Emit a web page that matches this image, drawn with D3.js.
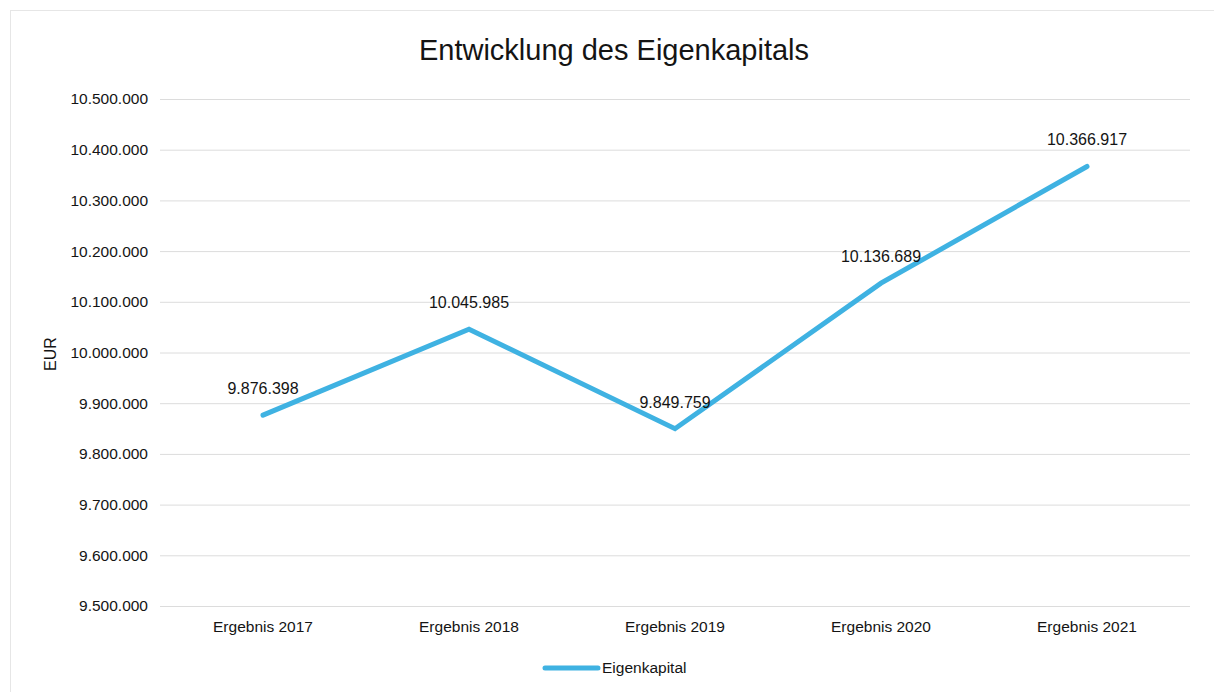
<!DOCTYPE html>
<html>
<head>
<meta charset="utf-8">
<script src="https://cdn.jsdelivr.net/npm/d3@7"></script>
<style>
  body { margin: 0; background: #fff; }
  svg { font-family: "Liberation Sans", Arial, sans-serif; }
</style>
</head>
<body>
<svg id="grafico" width="1214" height="692"></svg>
<script>
let kategorien = ['Ergebnis 2017', 'Ergebnis 2018', 'Ergebnis 2019', 'Ergebnis 2020', 'Ergebnis 2021'];
let eigenkapital = [9876398, 10045985, 9849759, 10136689, 10366917];
let yTicks = [9500000, 9600000, 9700000, 9800000, 9900000, 10000000, 10100000, 10200000, 10300000, 10400000, 10500000];

let svg = d3.select('#grafico');
let farbe = '#3FB2E2';
let schrift = '#141414';

// deutsches Zahlenformat mit Punkt als Tausendertrennzeichen
let fmt = d3.formatLocale({decimal: ',', thousands: '.', grouping: [3], currency: ['', ' €']}).format(',d');

// leichter Rahmen
svg.append('rect')
    .attr('x', 10.5).attr('y', 10.5)
    .attr('width', 1220).attr('height', 700)
    .attr('fill', 'none')
    .attr('stroke', '#e6e6e6');

let links = 160, rechts = 1190, oben = 99, unten = 606;

let fnx = d3.scaleBand()
    .domain(kategorien)
    .range([links, rechts]);

let fny = d3.scaleLinear()
    .domain([9500000, 10500000])
    .range([unten, oben]);

// Gitterlinien
svg.append('g')
    .selectAll('line')
    .data(yTicks)
    .join('line')
    .attr('x1', links).attr('x2', rechts)
    .attr('y1', d => fny(d) + 0.5).attr('y2', d => fny(d) + 0.5)
    .attr('stroke', '#dcdcdc')
    .attr('stroke-width', 1);

// Y-Achse
let yAchse = svg.append('g')
    .attr('transform', `translate(${links}, 0)`)
    .call(d3.axisLeft(fny).tickValues(yTicks).tickFormat(fmt).tickSize(0).tickPadding(12));
yAchse.select('.domain').remove();
yAchse.selectAll('text')
    .attr('font-size', 15.5)
    .attr('font-family', '"Liberation Sans", Arial, sans-serif')
    .attr('fill', schrift);

// X-Achse
let xAchse = svg.append('g')
    .attr('transform', `translate(0, ${unten})`)
    .call(d3.axisBottom(fnx).tickSize(0).tickPadding(15));
xAchse.select('.domain').remove();
xAchse.selectAll('text')
    .attr('font-size', 15.5)
    .attr('font-family', '"Liberation Sans", Arial, sans-serif')
    .attr('fill', schrift);

// Linie
let linie = d3.line()
    .x((d, i) => fnx(kategorien[i]) + fnx.bandwidth() / 2)
    .y(d => fny(d));

svg.append('path')
    .datum(eigenkapital)
    .attr('d', linie)
    .attr('fill', 'none')
    .attr('stroke', farbe)
    .attr('stroke-width', 5)
    .attr('stroke-linejoin', 'miter')
    .attr('stroke-linecap', 'round');

// Datenbeschriftungen
svg.selectAll('.rotulo')
    .data(eigenkapital)
    .join('text')
    .attr('class', 'rotulo')
    .text(d => fmt(d))
    .attr('x', (d, i) => fnx(kategorien[i]) + fnx.bandwidth() / 2)
    .attr('y', d => fny(d))
    .attr('dy', -21)
    .attr('text-anchor', 'middle')
    .attr('font-size', 16)
    .attr('fill', schrift);

// Titel
svg.append('text')
    .text('Entwicklung des Eigenkapitals')
    .attr('x', 614).attr('y', 60)
    .attr('text-anchor', 'middle')
    .attr('font-size', 29)
    .attr('fill', schrift);

// Achsentitel
svg.append('text')
    .text('EUR')
    .attr('transform', 'translate(56, 354) rotate(-90)')
    .attr('text-anchor', 'middle')
    .attr('font-size', 16)
    .attr('fill', schrift);

// Legende
svg.append('line')
    .attr('x1', 545).attr('x2', 598)
    .attr('y1', 668).attr('y2', 668)
    .attr('stroke', farbe)
    .attr('stroke-width', 5)
    .attr('stroke-linecap', 'round');
svg.append('text')
    .text('Eigenkapital')
    .attr('x', 602).attr('y', 673)
    .attr('font-size', 15.5)
    .attr('fill', schrift);
</script>
</body>
</html>
